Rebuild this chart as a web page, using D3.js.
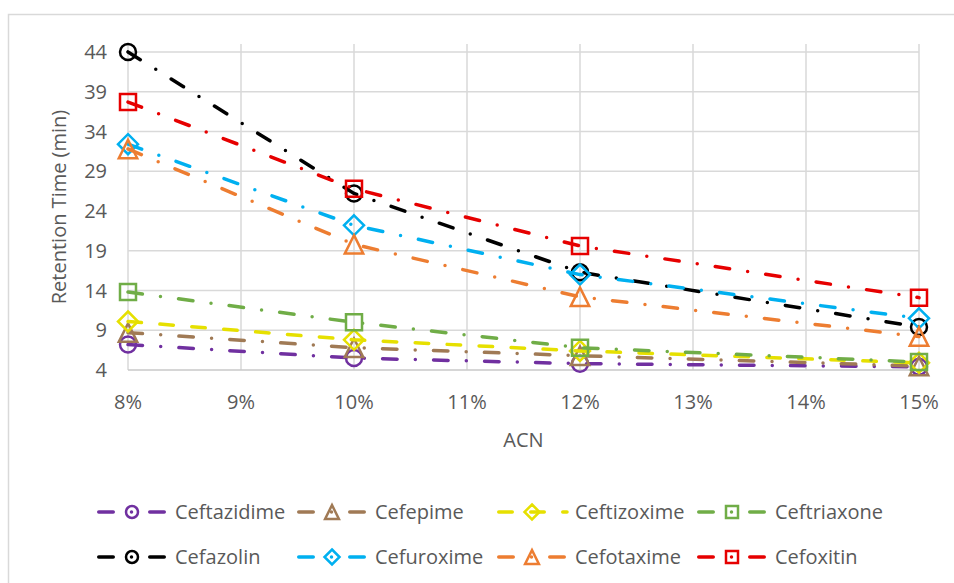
<!DOCTYPE html>
<html>
<head>
<meta charset="utf-8">
<script src="https://cdn.jsdelivr.net/npm/d3@7"></script>
<style>
  body { margin: 0; background: #fff; }
  text { font-family: "Open Sans", "Noto Sans", sans-serif; fill: #595959; }
</style>
</head>
<body>
<div id="vis"></div>
<script>
// datos
const acn = [8, 10, 12, 15];
const xTicks = [8, 9, 10, 11, 12, 13, 14, 15];
const yTicks = [4, 9, 14, 19, 24, 29, 34, 39, 44];

const ceftazidime = [7.2, 5.5, 4.8, 4.4];
const cefepime = [8.7, 6.8, 5.8, 4.5];
const ceftizoxime = [10.1, 7.8, 6.4, 4.9];
const ceftriaxone = [13.8, 10.0, 6.8, 5.0];
const cefazolin = [44.0, 26.2, 16.3, 9.4];
const cefuroxime = [32.4, 22.2, 16.0, 10.5];
const cefotaxime = [31.8, 19.8, 13.2, 8.2];
const cefoxitin = [37.7, 26.8, 19.6, 13.1];

const dashDot = "14.5,18.25,0,18.25";
const longDash = "13.5,18.5";

const series = [
  { name: "Ceftazidime", values: ceftazidime, color: "#7030a0", marker: "circle", dash: dashDot },
  { name: "Cefepime", values: cefepime, color: "#a07a55", marker: "triangle", dash: dashDot },
  { name: "Ceftizoxime", values: ceftizoxime, color: "#e6e000", marker: "diamond", dash: longDash },
  { name: "Ceftriaxone", values: ceftriaxone, color: "#70ad47", marker: "square", dash: dashDot },
  { name: "Cefazolin", values: cefazolin, color: "#000000", marker: "circle", dash: dashDot },
  { name: "Cefuroxime", values: cefuroxime, color: "#00b0f0", marker: "diamond", dash: dashDot },
  { name: "Cefotaxime", values: cefotaxime, color: "#ed7d31", marker: "triangle", dash: dashDot },
  { name: "Cefoxitin", values: cefoxitin, color: "#e60000", marker: "square", dash: dashDot }
];

const width = 954, height = 583;
const svg = d3.select("#vis").append("svg")
  .attr("width", width)
  .attr("height", height);

// borde del area del grafico
svg.append("rect")
  .attr("x", 8.5).attr("y", 14.5)
  .attr("width", 1000).attr("height", 1000)
  .attr("fill", "none")
  .attr("stroke", "#d9d9d9")
  .attr("stroke-width", 1.5);

const x = d3.scaleLinear().domain([8, 15]).range([128, 919]);
const y = d3.scaleLinear().domain([4, 45]).range([370, 44]);

// lineas de cuadricula
svg.append("g")
  .selectAll("line")
  .data(yTicks.slice(1))
  .enter().append("line")
  .attr("x1", x(8)).attr("x2", x(15))
  .attr("y1", d => y(d)).attr("y2", d => y(d))
  .attr("stroke", "#d9d9d9").attr("stroke-width", 1.5);

svg.append("g")
  .selectAll("line")
  .data(xTicks)
  .enter().append("line")
  .attr("x1", d => x(d)).attr("x2", d => x(d))
  .attr("y1", y(45)).attr("y2", y(4))
  .attr("stroke", "#d9d9d9").attr("stroke-width", 1.5);

// eje x
svg.append("line")
  .attr("x1", x(8)).attr("x2", x(15))
  .attr("y1", y(4)).attr("y2", y(4))
  .attr("stroke", "#c8c8c8").attr("stroke-width", 1.5);

// etiquetas de los ejes
svg.append("g")
  .selectAll("text")
  .data(yTicks)
  .enter().append("text")
  .attr("x", 107)
  .attr("y", d => y(d))
  .attr("dy", "0.36em")
  .attr("text-anchor", "end")
  .style("font-size", "20px")
  .text(d => d);

svg.append("g")
  .selectAll("text")
  .data(xTicks)
  .enter().append("text")
  .attr("x", d => x(d))
  .attr("y", 402)
  .attr("dy", "0.36em")
  .attr("text-anchor", "middle")
  .style("font-size", "20px")
  .text(d => d + "%");

svg.append("text")
  .attr("x", (x(8) + x(15)) / 2)
  .attr("y", 440)
  .attr("dy", "0.36em")
  .attr("text-anchor", "middle")
  .style("font-size", "20px")
  .text("ACN");

svg.append("text")
  .attr("transform", `translate(59,${(y(45) + y(4)) / 2}) rotate(-90)`)
  .attr("dy", "0.36em")
  .attr("text-anchor", "middle")
  .style("font-size", "20px")
  .text("Retention Time (min)");

// forma de cada marcador
function markerPath(type, s) {
  const p = d3.path();
  if (type === "circle") {
    p.arc(0, 0, s, 0, 2 * Math.PI);
  } else if (type === "square") {
    p.rect(-s, -s, 2 * s, 2 * s);
  } else if (type === "diamond") {
    const r = s * 1.25;
    p.moveTo(0, -r); p.lineTo(r, 0); p.lineTo(0, r); p.lineTo(-r, 0); p.closePath();
  } else {
    const h = s * 1.15;
    p.moveTo(0, -h); p.lineTo(h, h); p.lineTo(-h, h); p.closePath();
  }
  return p.toString();
}

const line = d3.line()
  .x((d, i) => x(acn[i]))
  .y(d => y(d));

series.forEach(s => {
  const g = svg.append("g");
  g.append("path")
    .attr("d", line(s.values))
    .attr("fill", "none")
    .attr("stroke", s.color)
    .attr("stroke-width", 3.5)
    .attr("stroke-linecap", "round")
    .attr("stroke-dasharray", s.dash);

  g.selectAll("path.marker")
    .data(s.values)
    .enter().append("path")
    .attr("class", "marker")
    .attr("transform", (d, i) => `translate(${x(acn[i])},${y(d)})`)
    .attr("d", markerPath(s.marker, 8))
    .attr("fill", "none")
    .attr("stroke", s.color)
    .attr("stroke-width", 2.5);
});

// leyenda
const legend = svg.append("g");
series.forEach((s, i) => {
  const lx = 97 + 200 * (i % 4);
  const ly = i < 4 ? 512 : 557;
  const g = legend.append("g").attr("transform", `translate(${lx},${ly})`);
  g.append("line")
    .attr("x1", 1.75).attr("x2", 70)
    .attr("y1", 0).attr("y2", 0)
    .attr("stroke", s.color)
    .attr("stroke-width", 3.5)
    .attr("stroke-linecap", "round")
    .attr("stroke-dasharray", s.dash);
  g.append("path")
    .attr("transform", "translate(35,0)")
    .attr("d", markerPath(s.marker, 6))
    .attr("fill", "none")
    .attr("stroke", s.color)
    .attr("stroke-width", 2.5);
  g.append("text")
    .attr("x", 78)
    .attr("y", 0)
    .attr("dy", "0.36em")
    .style("font-size", "20px")
    .text(s.name);
});
</script>
</body>
</html>
